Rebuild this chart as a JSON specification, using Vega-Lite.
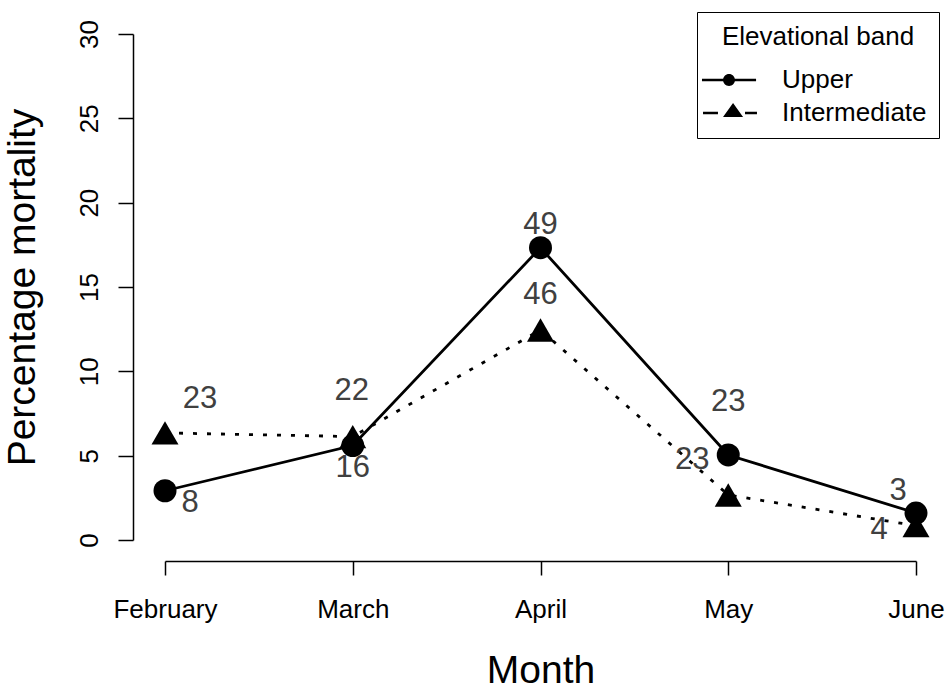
{
  "$schema": "https://vega.github.io/schema/vega-lite/v6.json",
  "width": 751,
  "height": 506,
  "autosize": "none",
  "padding": {"left": 165, "top": 34, "right": 34, "bottom": 153},
  "background": "white",
  "config": {
    "font": "Liberation Sans",
    "view": {"stroke": null},
    "axis": {
      "grid": false,
      "domainColor": "black",
      "domainWidth": 1.5,
      "tickColor": "black",
      "tickWidth": 1.5,
      "labelColor": "black",
      "titleColor": "black",
      "titleFontWeight": "normal"
    }
  },
  "data": {
    "values": [
      {"month": "February", "series": "Upper", "mortality": 2.92, "n": 8},
      {"month": "March", "series": "Upper", "mortality": 5.6, "n": 16},
      {"month": "April", "series": "Upper", "mortality": 17.33, "n": 49},
      {"month": "May", "series": "Upper", "mortality": 5.04, "n": 23},
      {"month": "June", "series": "Upper", "mortality": 1.6, "n": 3},
      {"month": "February", "series": "Intermediate", "mortality": 6.35, "n": 23},
      {"month": "March", "series": "Intermediate", "mortality": 6.13, "n": 22},
      {"month": "April", "series": "Intermediate", "mortality": 12.45, "n": 46},
      {"month": "May", "series": "Intermediate", "mortality": 2.67, "n": 23},
      {"month": "June", "series": "Intermediate", "mortality": 0.85, "n": 4}
    ]
  },
  "encoding": {
    "x": {
      "field": "month",
      "type": "ordinal",
      "sort": ["February", "March", "April", "May", "June"],
      "scale": {"type": "point", "padding": 0},
      "axis": {
        "title": "Month",
        "offset": 21,
        "tickSize": 14,
        "labelAngle": 0,
        "labelFontSize": 26,
        "labelPadding": 21,
        "titleFontSize": 39,
        "titleBaseline": "top",
        "titleY": 90
      }
    },
    "y": {
      "field": "mortality",
      "type": "quantitative",
      "scale": {"domain": [0, 30], "nice": false},
      "axis": {
        "title": "Percentage mortality",
        "values": [0, 5, 10, 15, 20, 25, 30],
        "offset": 32,
        "tickSize": 15,
        "labelAngle": -90,
        "labelAlign": "center",
        "labelBaseline": "alphabetic",
        "labelFontSize": 26,
        "labelPadding": 21,
        "titleFontSize": 39,
        "titleAngle": -90,
        "titleAlign": "center",
        "titleBaseline": "alphabetic",
        "titleX": -99,
        "titleY": 253
      }
    }
  },
  "layer": [
    {
      "transform": [{"filter": "datum.series === 'Upper'"}],
      "mark": {"type": "line", "color": "black", "strokeWidth": 2.8},
      "encoding": {}
    },
    {
      "transform": [{"filter": "datum.series === 'Intermediate'"}],
      "mark": {"type": "line", "color": "black", "strokeWidth": 2.8, "strokeDash": [4, 10]},
      "encoding": {}
    },
    {
      "mark": {"type": "point", "filled": true, "color": "black", "opacity": 1},
      "encoding": {
        "shape": {
          "condition": {"test": "datum.series === 'Upper'", "value": "circle"},
          "value": "triangle-up"
        },
        "size": {
          "condition": {"test": "datum.series === 'Upper'", "value": 529},
          "value": 729
        }
      }
    },
    {
      "transform": [{"filter": "false"}],
      "mark": {"type": "point", "filled": true, "color": "black"},
      "encoding": {
        "shape": {
          "field": "series",
          "type": "nominal",
          "scale": {
            "domain": ["Upper", "Intermediate"],
            "range": [
              "M-1.54,-0.1H2.62V0.1H-1.54Z M0.08,0A0.46,0.46,0,1,1,1,0A0.46,0.46,0,1,1,0.08,0Z",
              "M-1.46,-0.1H-0.31V0.1H-1.46Z M1.77,-0.1H2.69V0.1H1.77Z M0.85,-0.77L1.62,0.31L0.08,0.31Z"
            ]
          },
          "legend": {
            "title": "Elevational band",
            "orient": "none",
            "legendX": 532,
            "legendY": -22,
            "padding": 12,
            "strokeColor": "black",
            "fillColor": "white",
            "titleFontSize": 26,
            "titleFontWeight": "normal",
            "titleColor": "black",
            "titleAnchor": "middle",
            "titleLimit": 400,
            "titlePadding": 17,
            "labelFontSize": 26,
            "labelColor": "black",
            "labelLimit": 400,
            "labelOffset": 47,
            "rowPadding": 7,
            "symbolSize": 676,
            "symbolStrokeWidth": 0,
            "symbolFillColor": "black",
            "symbolOpacity": 1,
            "encode": {
              "legend": {"update": {"strokeWidth": {"value": 1.5}}}
            }
          }
        }
      }
    },
    {
      "transform": [{"filter": "datum.series === 'Upper' && datum.month === 'February'"}],
      "mark": {"type": "text", "fontSize": 31, "color": "#404040", "dx": 25, "dy": 12},
      "encoding": {"text": {"field": "n"}}
    },
    {
      "transform": [{"filter": "datum.series === 'Upper' && datum.month === 'March'"}],
      "mark": {"type": "text", "fontSize": 31, "color": "#404040", "dx": 0, "dy": 22},
      "encoding": {"text": {"field": "n"}}
    },
    {
      "transform": [{"filter": "datum.series === 'Upper' && datum.month === 'April'"}],
      "mark": {"type": "text", "fontSize": 31, "color": "#404040", "dx": 0, "dy": -23},
      "encoding": {"text": {"field": "n"}}
    },
    {
      "transform": [{"filter": "datum.series === 'Upper' && datum.month === 'May'"}],
      "mark": {"type": "text", "fontSize": 31, "color": "#404040", "dx": 0, "dy": -53},
      "encoding": {"text": {"field": "n"}}
    },
    {
      "transform": [{"filter": "datum.series === 'Upper' && datum.month === 'June'"}],
      "mark": {"type": "text", "fontSize": 31, "color": "#404040", "dx": -18, "dy": -22},
      "encoding": {"text": {"field": "n"}}
    },
    {
      "transform": [{"filter": "datum.series === 'Intermediate' && datum.month === 'February'"}],
      "mark": {"type": "text", "fontSize": 31, "color": "#404040", "dx": 35, "dy": -34},
      "encoding": {"text": {"field": "n"}}
    },
    {
      "transform": [{"filter": "datum.series === 'Intermediate' && datum.month === 'March'"}],
      "mark": {"type": "text", "fontSize": 31, "color": "#404040", "dx": -1, "dy": -46},
      "encoding": {"text": {"field": "n"}}
    },
    {
      "transform": [{"filter": "datum.series === 'Intermediate' && datum.month === 'April'"}],
      "mark": {"type": "text", "fontSize": 31, "color": "#404040", "dx": 0, "dy": -35},
      "encoding": {"text": {"field": "n"}}
    },
    {
      "transform": [{"filter": "datum.series === 'Intermediate' && datum.month === 'May'"}],
      "mark": {"type": "text", "fontSize": 31, "color": "#404040", "dx": -36, "dy": -35},
      "encoding": {"text": {"field": "n"}}
    },
    {
      "transform": [{"filter": "datum.series === 'Intermediate' && datum.month === 'June'"}],
      "mark": {"type": "text", "fontSize": 31, "color": "#404040", "dx": -37, "dy": 4},
      "encoding": {"text": {"field": "n"}}
    }
  ]
}
